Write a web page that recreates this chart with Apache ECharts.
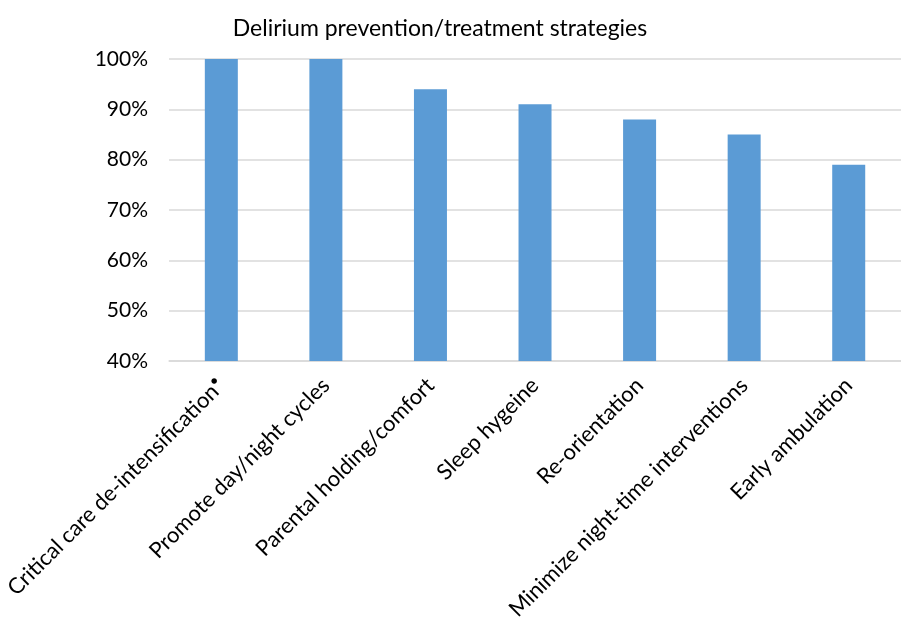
<!DOCTYPE html>
<html>
<head>
<meta charset="utf-8">
<script src="https://cdn.jsdelivr.net/npm/echarts@6/dist/echarts.min.js"></script>
<style>html,body{margin:0;padding:0;background:#fff;}#c{width:901px;height:623px;}</style>
</head>
<body>
<div id="c"></div>
<script>
const titleText = "Delirium prevention/treatment strategies";
const categories = [
  "Critical care de-intensification",
  "Promote day/night cycles",
  "Parental holding/comfort",
  "Sleep hygeine",
  "Re-orientation",
  "Minimize night-time interventions",
  "Early ambulation"
];
const values = [100, 100, 94, 91, 88, 85, 79];
const yTicks = [40, 50, 60, 70, 80, 90, 100];

const FONT = "Lato";
const chart = echarts.init(document.getElementById('c'), null, {renderer: 'canvas'});
chart.setOption({
  animation: false,
  backgroundColor: '#ffffff',
  title: {
    text: titleText,
    left: 435, top: 12, textAlign: 'center',
    textStyle: {fontFamily: FONT, fontSize: 23, fontWeight: 'normal', color: '#000'}
  },
  grid: {left: 168, top: 59, width: 736, height: 303, containLabel: false},
  xAxis: {
    type: 'category',
    data: categories,
    axisLine: {lineStyle: {color: '#d9d9d9', width: 1.5}},
    axisTick: {show: false},
    axisLabel: {
      interval: 0, rotate: 45, margin: 21,
      fontFamily: FONT, fontSize: 22, color: '#000',
      formatter: function (v, i) { return i === 0 ? '{a|' + v + '}{b|•}' : v; },
      rich: {
        a: {fontFamily: FONT, fontSize: 22, color: '#000'},
        b: {fontFamily: FONT, fontSize: 15, color: '#000', verticalAlign: 'top', padding: [0, 0, 12, 0]}
      }
    }
  },
  yAxis: {
    type: 'value',
    min: yTicks[0], max: yTicks[yTicks.length - 1], interval: 10,
    axisLine: {show: false},
    axisTick: {show: false},
    axisLabel: {
      margin: 21, fontFamily: FONT, fontSize: 21, color: '#000',
      formatter: function (v) { return v + '%'; }
    },
    splitLine: {lineStyle: {color: '#d9d9d9', width: 1.5}}
  },
  series: [{
    type: 'bar',
    data: values,
    barWidth: 33,
    itemStyle: {color: '#5b9bd5'}
  }]
});
</script>
</body>
</html>
